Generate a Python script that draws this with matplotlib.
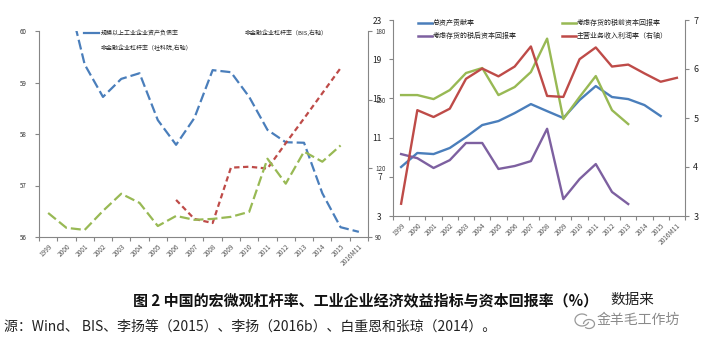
import matplotlib
matplotlib.use('Agg')
import matplotlib.pyplot as plt
import numpy as np
from matplotlib.lines import Line2D
from matplotlib.patches import Arc

plt.rcParams['font.family'] = ['Noto Sans CJK SC', 'DejaVu Sans']

nan = np.nan
years = ['1999', '2000', '2001', '2002', '2003', '2004', '2005', '2006', '2007',
         '2008', '2009', '2010', '2011', '2012', '2013', '2014', '2015', '2016M11']

# Left panel
asset_liab = [61.9, 60.8, 59.35, 58.72, 59.07, 59.18, 58.27, 57.79, 58.31,
              59.24, 59.2, 58.72, 58.08, 57.84, 57.83, 56.85, 56.19, 56.1]
bis_lev = [nan, nan, nan, nan, nan, nan, nan, 106.2, 97.9,
           96.1, 120.3, 120.7, 119.9, 131.0, 141.8, 152.8, 163.8, nan]
cass_lev = [100.5, 94.0, 93.1, 101.4, 108.9, 104.9, 94.8, 99.2, 97.5,
            97.9, 98.8, 101.0, 124.2, 113.3, 127.3, 122.9, 130.0, nan]

# Right panel
asset_contrib = [8.0, 9.43, 9.32, 9.94, 11.06, 12.28, 12.69, 13.5, 14.42,
                 13.7, 13.0, 14.83, 16.26, 15.14, 14.93, 14.32, 13.2, nan]
after_tax = [9.32, 8.9, 7.9, 8.7, 10.45, 10.45, 7.8, 8.1, 8.6,
             11.9, 4.73, 6.77, 8.3, 5.45, 4.22, nan, nan, nan]
pre_tax = [15.34, 15.34, 14.93, 15.85, 17.59, 18.1, 15.34, 16.16, 17.69,
           21.1, 12.9, 15.14, 17.28, 13.8, 12.38, nan, nan, nan]
profit_margin = [3.25, 5.16, 5.02, 5.19, 5.8, 6.01, 5.85, 6.05, 6.46,
                 5.45, 5.43, 6.2, 6.44, 6.05, 6.09, 5.91, 5.74, 5.82]

left_names = ['规模以上工业企业资产负债率', '非金融企业杠杆率（BIS,右轴）',
              '非金融企业杠杆率（社科院,右轴）']
right_names = ['总资产贡献率', '考虑存货的税后资本回报率',
               '考虑存货的税前资本回报率', '主营业务收入利润率（右轴）']

BLUE = '#4A7EBB'
RED = '#BE4B48'
GREEN = '#98B954'
PURPLE = '#7D60A0'
AX = '#868686'

W, H = 714, 351
fig = plt.figure(figsize=(7.14, 3.51), dpi=100)

def fx(px):
    return px / W

def fy(py):
    return 1 - py / H

x = np.arange(len(years))

def style_x(ax):
    ax.set_xlim(-0.5, len(years) - 0.5)
    ax.set_xticks(np.arange(-0.5, len(years), 1.0))
    ax.set_xticklabels([])
    ax.set_xticks(x, minor=True)
    ax.set_xticklabels(years, minor=True, rotation=45, ha='right', va='top',
                       rotation_mode='anchor', fontsize=4.7, color='#555555')
    ax.tick_params(axis='x', which='major', length=3, color=AX, direction='out')
    ax.tick_params(axis='x', which='minor', length=0, pad=4)
    ax.spines['top'].set_visible(False)
    for s in ['left', 'bottom', 'right']:
        ax.spines[s].set_color(AX)
        ax.spines[s].set_linewidth(0.8)

# ---------- Left panel ----------
axL = fig.add_axes([fx(39), fy(237), fx(368 - 39), (237 - 31) / H])
axL.patch.set_alpha(0)
axL.plot(x, asset_liab, color=BLUE, lw=1.6, dashes=(4.5, 1.8))
axL.set_ylim(56, 60)
axL.set_yticks([56, 57, 58, 59, 60])
axL.tick_params(axis='y', length=3, color=AX, labelsize=4.5, labelcolor='#333333', pad=6)
style_x(axL)
axL.spines['right'].set_visible(False)

axL2 = axL.twinx()
axL2.plot(x, bis_lev, color=RED, lw=1.6, dashes=(2.4, 1.6))
axL2.plot(x, cass_lev, color=GREEN, lw=1.6, dashes=(4.5, 1.8))
axL2.set_ylim(90, 180)
axL2.set_yticks([90, 120, 150, 180])
axL2.tick_params(axis='y', length=3, color=AX, labelsize=4.5, labelcolor='#333333', pad=2)
axL2.spines['top'].set_visible(False)
axL2.spines['left'].set_visible(False)
axL2.spines['bottom'].set_visible(False)
axL2.spines['right'].set_color(AX)
axL2.spines['right'].set_linewidth(0.8)

# left legend (partially visible in the reference)
fig.add_artist(Line2D([fx(84), fx(99)], [fy(33), fy(33)], color=BLUE, lw=1.6))
fig.text(fx(101), fy(33), left_names[0], fontsize=4.3, va='center', color='#222222')
fig.text(fx(245), fy(33), left_names[1], fontsize=4.3, va='center', color='#222222')
fig.text(fx(101), fy(48), left_names[2], fontsize=4.3, va='center', color='#222222')

# ---------- Right panel ----------
axR = fig.add_axes([fx(393), fy(216), fx(685 - 393), (216 - 20) / H])
axR.patch.set_alpha(0)
axR.plot(x, asset_contrib, color=BLUE, lw=1.7)
axR.plot(x, after_tax, color=PURPLE, lw=1.7)
axR.plot(x, pre_tax, color=GREEN, lw=1.7)
axR.set_ylim(3, 23)
axR.set_yticks([3, 7, 11, 15, 19, 23])
axR.tick_params(axis='y', length=3, color=AX, labelsize=6, labelcolor='#222222', pad=5)
style_x(axR)
axR.spines['right'].set_visible(False)

axR2 = axR.twinx()
axR2.plot(x, profit_margin, color=RED, lw=1.7)
axR2.set_ylim(3, 7)
axR2.set_yticks([3, 4, 5, 6, 7])
axR2.tick_params(axis='y', length=3, color=AX, labelsize=6.5, labelcolor='#222222', pad=3)
axR2.spines['top'].set_visible(False)
axR2.spines['left'].set_visible(False)
axR2.spines['bottom'].set_visible(False)
axR2.spines['right'].set_color(AX)
axR2.spines['right'].set_linewidth(0.8)

# right legend
leg = [(418, 23, BLUE, right_names[0]), (418, 36, PURPLE, right_names[1]),
       (562, 23, GREEN, right_names[2]), (562, 36, RED, right_names[3])]
for px, py, c, t in leg:
    fig.add_artist(Line2D([fx(px), fx(px + 14)], [fy(py), fy(py)], color=c, lw=1.8))
    fig.text(fx(px + 15), fy(py), t, fontsize=5, va='center', color='#222222')

# ---------- Caption ----------
fig.text(fx(133), fy(300), '图 2 中国的宏微观杠杆率、工业企业经济效益指标与资本回报率（%）',
         fontsize=10.8, weight='bold', va='center', ha='left', color='#111111')
fig.text(fx(610), fy(300), '数据来', fontsize=10.5, va='center', ha='left', color='#222222')
fig.text(fx(4), fy(327), '源：Wind、 BIS、李扬等（2015）、李扬（2016b）、白重恩和张琼（2014）。',
         fontsize=10, va='center', ha='left', color='#222222')

# watermark
fig.add_artist(Arc((fx(582), fy(320)), fx(14), 12 / H, theta1=60, theta2=330,
                   color='#999999', lw=0.9))
fig.add_artist(Arc((fx(589), fy(324)), fx(11), 9 / H, theta1=-120, theta2=180,
                   color='#999999', lw=0.9))
fig.text(fx(597), fy(320), '金羊毛工作坊', fontsize=10, va='center', ha='left',
         color='#8a8a8a')

fig.savefig('out.png', dpi=100)
